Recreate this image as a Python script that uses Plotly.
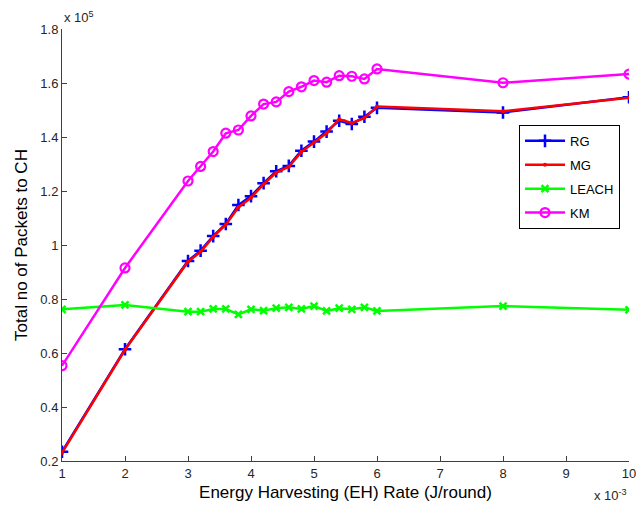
import plotly.graph_objects as go

# Energy harvesting rate (J/round)
EH_RATE = [0.001, 0.002, 0.003, 0.0032, 0.0034, 0.0036, 0.0038, 0.004, 0.0042, 0.0044,
           0.0046, 0.0048, 0.005, 0.0052, 0.0054, 0.0056, 0.0058, 0.006, 0.008, 0.010]

# Total number of packets to CH
RG = [23400, 61400, 94100, 97900, 103300, 107800, 114800, 118100, 122900, 127300,
      129300, 134900, 138300, 142000, 146000, 144800, 147500, 150800, 149100, 154700]
MG = [23000, 61200, 93800, 97500, 103000, 107500, 114000, 117500, 122500, 126800,
      129000, 134500, 138000, 141500, 146600, 145200, 147000, 151300, 149500, 154500]
LEACH = [76200, 77800, 75300, 75300, 76300, 76300, 74300, 76200, 75700, 76600,
         76900, 76300, 77400, 75600, 76600, 76200, 76900, 75600, 77400, 76000]
KM = [55300, 91500, 123700, 129100, 134600, 141400, 142600, 147800, 152200, 153000,
      156800, 158600, 160900, 160300, 162700, 162500, 161500, 165200, 160100, 163300]

X_TICKS = [0.001, 0.002, 0.003, 0.004, 0.005, 0.006, 0.007, 0.008, 0.009, 0.010]
X_TICK_TEXT = ["1", "2", "3", "4", "5", "6", "7", "8", "9", "10"]
Y_TICKS = [20000, 40000, 60000, 80000, 100000, 120000, 140000, 160000, 180000]
Y_TICK_TEXT = ["0.2", "0.4", "0.6", "0.8", "1", "1.2", "1.4", "1.6", "1.8"]

FONT = "Liberation Sans, Arial, Helvetica, sans-serif"
AXC = "#404040"

fig = go.Figure()
fig.add_trace(go.Scatter(x=EH_RATE, y=RG, name="RG", mode="lines+markers", legendgroup="a",
                         line=dict(color="#0000ff", width=2.5),
                         marker=dict(symbol="cross-thin", size=9, line=dict(width=2.5, color="#0000ff"))))
fig.add_trace(go.Scatter(x=EH_RATE, y=MG, name="MG", mode="lines+markers", legendgroup="b",
                         line=dict(color="#ff0000", width=2.5),
                         marker=dict(symbol="circle", size=4, color="#ff0000")))
fig.add_trace(go.Scatter(x=EH_RATE, y=LEACH, name="LEACH", mode="lines+markers", legendgroup="c",
                         line=dict(color="#00ff00", width=2.5),
                         marker=dict(symbol="x-thin", size=7, line=dict(width=2.5, color="#00ff00"))))
fig.add_trace(go.Scatter(x=EH_RATE, y=KM, name="KM", mode="lines+markers", legendgroup="d",
                         line=dict(color="#ff00ff", width=2.5),
                         marker=dict(symbol="circle-open", size=9, line=dict(width=2.2, color="#ff00ff"))))

fig.update_layout(
    width=636, height=508, autosize=False,
    margin=dict(l=62, r=7, t=29, b=47),
    paper_bgcolor="white", plot_bgcolor="white",
    font=dict(family=FONT, size=13, color="#262626"),
    showlegend=True,
    legend=dict(x=0.806, y=0.778, xanchor="left", yanchor="top",
                bordercolor="black", borderwidth=1, bgcolor="white",
                font=dict(family=FONT, size=13, color="#000000"),
                itemwidth=40, tracegroupgap=4),
    xaxis=dict(range=[0.001, 0.010], tickvals=X_TICKS, ticktext=X_TICK_TEXT,
               showgrid=False, zeroline=False, showline=True, linecolor=AXC, linewidth=1,
               ticks="inside", ticklen=5, tickcolor=AXC, mirror=False,
               ticklabeloverflow="allow", automargin=False,
               tickfont=dict(family=FONT, size=13, color="#262626"),
               title=dict(text="Energy Harvesting (EH) Rate (J/round)", standoff=6,
                          font=dict(family=FONT, size=17, color="#000000"))),
    yaxis=dict(range=[20000, 180000], tickvals=Y_TICKS, ticktext=Y_TICK_TEXT,
               showgrid=False, zeroline=False, showline=True, linecolor=AXC, linewidth=1,
               ticks="inside", ticklen=5, tickcolor=AXC, mirror=False,
               ticklabeloverflow="allow", automargin=False,
               tickfont=dict(family=FONT, size=13, color="#262626"),
               title=dict(text="Total no of Packets to CH", standoff=8,
                          font=dict(family=FONT, size=17, color="#000000"))),
    annotations=[
        dict(text="x 10<sup>5</sup>", xref="paper", yref="paper", x=0, y=1,
             xanchor="left", yanchor="bottom", yshift=2, showarrow=False,
             font=dict(family=FONT, size=13, color="#262626")),
        dict(text="x 10<sup>-3</sup>", xref="paper", yref="paper", x=1, y=0,
             xanchor="right", yanchor="top", yshift=-24, xshift=0, showarrow=False,
             font=dict(family=FONT, size=13, color="#262626")),
    ],
)

fig.write_html("out.html")
